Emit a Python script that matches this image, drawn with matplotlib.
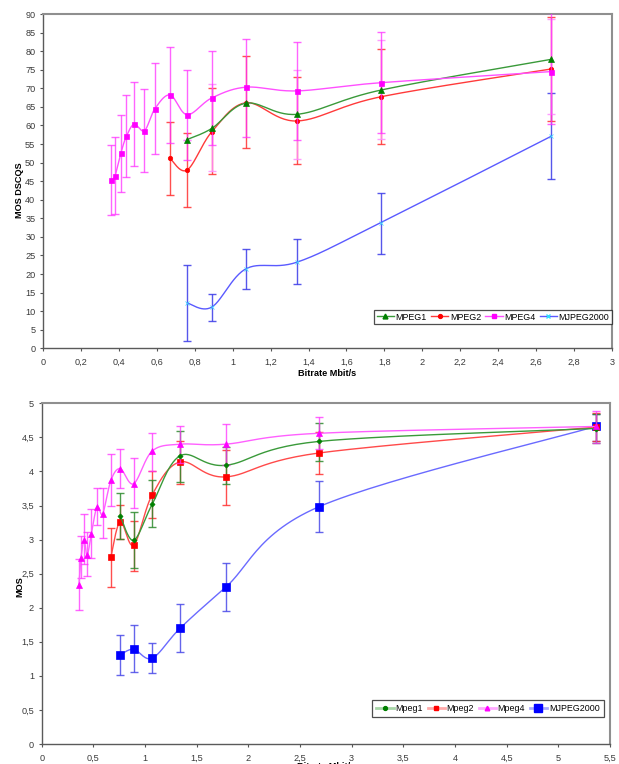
import numpy as np
import matplotlib
matplotlib.use("Agg")
import matplotlib.pyplot as plt
from matplotlib.lines import Line2D
from matplotlib.ticker import FuncFormatter, MultipleLocator

plt.rcParams['font.family'] = ['Liberation Sans', 'DejaVu Sans']

# ---------------- data: top chart (MOS DSCQS) ----------------
top_x_mpeg1 = [0.76, 0.89, 1.07, 1.34, 1.78, 2.68]
top_mpeg1 = [56.2, 59.2, 66.0, 63.0, 69.5, 77.8]
top_mpeg1_lo = [56.2, 47.6, 66.0, 51.0, 56.3, 63.1]
top_mpeg1_hi = [56.2, 71.1, 66.0, 75.0, 82.9, 88.6]

top_x_mpeg2 = [0.67, 0.76, 0.89, 1.07, 1.34, 1.78, 2.68]
top_mpeg2 = [51.1, 48.0, 58.3, 66.1, 61.2, 67.7, 75.2]
top_mpeg2_lo = [41.2, 38.1, 46.8, 53.8, 49.5, 55.0, 61.1]
top_mpeg2_hi = [61.0, 58.0, 70.0, 78.7, 73.1, 80.5, 89.3]

top_x_mpeg4 = [0.36, 0.38, 0.41, 0.44, 0.48, 0.535, 0.59, 0.67, 0.76, 0.89, 1.07, 1.34, 1.78, 2.68]
top_mpeg4 = [45.3, 46.5, 52.5, 57.1, 60.3, 58.6, 64.5, 68.2, 62.9, 67.4, 70.3, 69.3, 71.5, 74.5]
top_mpeg4_lo = [35.9, 36.2, 42.2, 46.0, 49.0, 47.5, 52.4, 55.3, 50.8, 54.7, 57.0, 56.2, 58.0, 60.4]
top_mpeg4_hi = [54.7, 56.8, 62.7, 68.3, 71.7, 69.7, 76.7, 81.0, 75.0, 80.1, 83.4, 82.4, 85.1, 90.3]

top_x_mj2k = [0.76, 0.89, 1.07, 1.34, 1.78, 2.68]
top_mj2k = [12.2, 11.1, 21.4, 23.2, 33.8, 57.1]
top_mj2k_lo = [1.9, 7.4, 16.0, 17.4, 25.5, 45.7]
top_mj2k_hi = [22.3, 14.7, 26.7, 29.3, 41.9, 68.6]

top_labels = ["MPEG1", "MPEG2", "MPEG4", "MJPEG2000"]

# ---------------- data: bottom chart (MOS) ----------------
bot_x_mpeg1 = [0.76, 0.89, 1.07, 1.34, 1.78, 2.68, 5.36]
bot_mpeg1 = [3.35, 2.99, 3.52, 4.23, 4.09, 4.44, 4.63]
bot_mpeg1_lo = [3.01, 2.58, 3.18, 3.85, 3.82, 4.16, 4.42]
bot_mpeg1_hi = [3.69, 3.41, 3.87, 4.59, 4.36, 4.71, 4.84]

bot_x_mpeg2 = [0.67, 0.76, 0.89, 1.07, 1.34, 1.78, 2.68, 5.36]
bot_mpeg2 = [2.75, 3.26, 2.92, 3.66, 4.14, 3.92, 4.27, 4.65]
bot_mpeg2_lo = [2.31, 3.01, 2.54, 3.32, 3.82, 3.51, 3.96, 4.45]
bot_mpeg2_hi = [3.17, 3.51, 3.28, 4.00, 4.44, 4.32, 4.58, 4.86]

bot_x_mpeg4 = [0.36, 0.38, 0.41, 0.44, 0.48, 0.535, 0.59, 0.67, 0.76, 0.89, 1.07, 1.34, 1.78, 2.68, 5.36]
bot_mpeg4 = [2.34, 2.73, 2.99, 2.77, 3.08, 3.48, 3.38, 3.87, 4.04, 3.82, 4.30, 4.40, 4.40, 4.56, 4.66]
bot_mpeg4_lo = [1.97, 2.44, 2.64, 2.46, 2.73, 3.21, 3.03, 3.49, 3.75, 3.47, 4.01, 4.13, 4.10, 4.33, 4.42]
bot_mpeg4_hi = [2.72, 3.05, 3.37, 3.11, 3.45, 3.75, 3.75, 4.25, 4.33, 4.19, 4.57, 4.66, 4.69, 4.80, 4.89]

bot_x_mj2k = [0.76, 0.89, 1.07, 1.34, 1.78, 2.68, 5.36]
bot_mj2k = [1.31, 1.39, 1.26, 1.70, 2.30, 3.48, 4.66]
bot_mj2k_lo = [1.01, 1.05, 1.04, 1.35, 1.95, 3.11, 4.45]
bot_mj2k_hi = [1.60, 1.74, 1.48, 2.06, 2.66, 3.86, 4.85]

bot_labels = ["Mpeg1", "Mpeg2", "Mpeg4", "MJPEG2000"]

# ---------------- figure ----------------
W, H = 619, 764
fig = plt.figure(figsize=(W / 100, H / 100), dpi=100)
fig.patch.set_facecolor('white')


def px_axes(l, t, r, b):
    return fig.add_axes([l / W, 1 - b / H, (r - l) / W, (b - t) / H])


ax1 = px_axes(43, 14, 612, 348.3)
ax2 = px_axes(41.7, 403.3, 610, 744)


def comma(v, pos):
    s = '%g' % round(v, 3)
    return s.replace('.', ',')


def style_axes(ax, xmax, xstep, ymax, ystep):
    ax.set_xlim(0, xmax)
    ax.set_ylim(0, ymax)
    ax.xaxis.set_major_locator(MultipleLocator(xstep))
    ax.yaxis.set_major_locator(MultipleLocator(ystep))
    ax.xaxis.set_major_formatter(FuncFormatter(comma))
    ax.yaxis.set_major_formatter(FuncFormatter(comma))
    ax.tick_params(axis='both', labelsize=6.6, labelcolor='#3a3a3a', color='#555555',
                   length=2.5, width=0.8, direction='out')
    ax.tick_params(axis='x', pad=4.5)
    ax.tick_params(axis='y', pad=3)
    for s in ('top', 'right'):
        ax.spines[s].set_color('#8f8f8f')
        ax.spines[s].set_linewidth(1.5)
    for s in ('left', 'bottom'):
        ax.spines[s].set_color('#5a5a5a')
        ax.spines[s].set_linewidth(1.0)


style_axes(ax1, 3, 0.2, 90, 5)
style_axes(ax2, 5.5, 0.5, 5, 0.5)


def smooth(ax, xs, ys, n=30):
    """Excel-like smoothed line (Catmull-Rom Bezier) computed in display space."""
    pts = ax.transData.transform(np.column_stack([xs, ys]))
    m = len(pts)
    out = [pts[0]]
    t = np.linspace(0, 1, n)[1:, None]
    for i in range(m - 1):
        p0 = pts[i - 1] if i > 0 else pts[i]
        p1 = pts[i]
        p2 = pts[i + 1]
        p3 = pts[i + 2] if i + 2 < m else pts[i + 1]
        c1 = p1 + (p2 - p0) / 6.0
        c2 = p2 - (p3 - p1) / 6.0
        seg = ((1 - t) ** 3) * p1 + 3 * ((1 - t) ** 2) * t * c1 + 3 * (1 - t) * t ** 2 * c2 + t ** 3 * p2
        out.extend(seg)
    out = np.array(out)
    data = ax.transData.inverted().transform(out)
    return data[:, 0], data[:, 1]


def series(ax, xs, ys, lo, hi, line_c, mk, mk_c, ms, err_c, lw=1.0, z=3, err_alpha=0.85):
    xs = np.asarray(xs, float)
    ys = np.asarray(ys, float)
    lo = np.asarray(lo, float)
    hi = np.asarray(hi, float)
    yerr = np.vstack([ys - lo, hi - ys])
    ax.errorbar(xs, ys, yerr=yerr, fmt='none', ecolor=err_c, elinewidth=1.0,
                capsize=3.0, capthick=1.0, alpha=err_alpha, zorder=z - 1)
    sx, sy = smooth(ax, xs, ys)
    ax.plot(sx, sy, color=line_c, lw=lw, zorder=z, solid_capstyle='round')
    ax.plot(xs, ys, linestyle='none', marker=mk, color=mk_c, markersize=ms,
            markeredgewidth=0.5, zorder=z + 1)


# ---- top chart ----
series(ax1, top_x_mj2k, top_mj2k, top_mj2k_lo, top_mj2k_hi,
       '#5a5aff', 'x', '#33ddff', 3.3, '#3a3ae8', z=3)
series(ax1, top_x_mpeg2, top_mpeg2, top_mpeg2_lo, top_mpeg2_hi,
       '#ff3a3a', 'o', '#ff0000', 3.2, '#ff3030', z=4)
series(ax1, top_x_mpeg1, top_mpeg1, top_mpeg1_lo, top_mpeg1_hi,
       '#3a9a3a', '^', '#008000', 3.8, '#ff8cff', z=5)
series(ax1, top_x_mpeg4, top_mpeg4, top_mpeg4_lo, top_mpeg4_hi,
       '#ff50ff', 's', '#ff00ff', 3.6, '#ff30ff', z=6, err_alpha=0.75)

h1 = [Line2D([], [], color='#3a9a3a', lw=1, marker='^', mfc='#008000', mec='#008000', ms=3.5),
      Line2D([], [], color='#ff3a3a', lw=1, marker='o', mfc='#ff0000', mec='#ff0000', ms=2.8),
      Line2D([], [], color='#ff50ff', lw=1, marker='s', mfc='#ff00ff', mec='#ff00ff', ms=3.2),
      Line2D([], [], color='#5a5aff', lw=1, marker='x', mfc='#33ddff', mec='#33ddff', ms=3.2)]
leg1 = fig.legend(h1, top_labels, loc='center', bbox_to_anchor=(493 / W, 1 - 317 / H),
                  ncol=4, fontsize=6.4, frameon=True, fancybox=False, handlelength=1.95,
                  handletextpad=0.2, columnspacing=0.45, borderpad=0.3, borderaxespad=0)
leg1.get_frame().set_edgecolor('#222222')
leg1.get_frame().set_linewidth(0.9)

# ---- bottom chart ----
series(ax2, bot_x_mj2k, bot_mj2k, bot_mj2k_lo, bot_mj2k_hi,
       '#6a6aff', 's', '#0000ff', 5.8, '#4a4ae8', z=3)
series(ax2, bot_x_mpeg2, bot_mpeg2, bot_mpeg2_lo, bot_mpeg2_hi,
       '#ff4a4a', 's', '#ff0000', 3.8, '#ff3030', z=4)
series(ax2, bot_x_mpeg1, bot_mpeg1, bot_mpeg1_lo, bot_mpeg1_hi,
       '#3a9a3a', 'D', '#008000', 2.6, '#2e8b2e', z=5)
series(ax2, bot_x_mpeg4, bot_mpeg4, bot_mpeg4_lo, bot_mpeg4_hi,
       '#ff60ff', '^', '#ff00ff', 4.0, '#ff30ff', z=6, err_alpha=0.75)

h2 = [Line2D([], [], color='#a8d6a8', lw=2, marker='o', mfc='#008000', mec='#008000', ms=2.8),
      Line2D([], [], color='#ffaaaa', lw=2, marker='s', mfc='#ff0000', mec='#ff0000', ms=3.3),
      Line2D([], [], color='#ffaaff', lw=2, marker='^', mfc='#ff00ff', mec='#ff00ff', ms=3.3),
      Line2D([], [], color='#aaaaff', lw=2, marker='s', mfc='#0000ff', mec='#0000ff', ms=5.5)]
leg2 = fig.legend(h2, bot_labels, loc='center', bbox_to_anchor=(488 / W, 1 - 708.5 / H),
                  ncol=4, fontsize=6.4, frameon=True, fancybox=False, handlelength=1.95,
                  handletextpad=0.2, columnspacing=0.5, borderpad=0.45, borderaxespad=0)
leg2.get_frame().set_edgecolor('#222222')
leg2.get_frame().set_linewidth(0.9)

# ---- axis titles ----
fig.text(20 / W, 1 - 190 / H, 'MOS DSCQS', rotation=90, ha='center', va='center',
         fontsize=6.6, fontweight='bold')
fig.text(327 / W, 1 - 373 / H, 'Bitrate Mbit/s', ha='center', va='center',
         fontsize=6.6, fontweight='bold')
fig.text(20 / W, 1 - 587 / H, 'MOS', rotation=90, ha='center', va='center',
         fontsize=6.6, fontweight='bold')
fig.text(326 / W, 1 - 766 / H, 'Bitrate Mbit/s', ha='center', va='center',
         fontsize=6.6, fontweight='bold')

fig.savefig('out.png', dpi=100)
